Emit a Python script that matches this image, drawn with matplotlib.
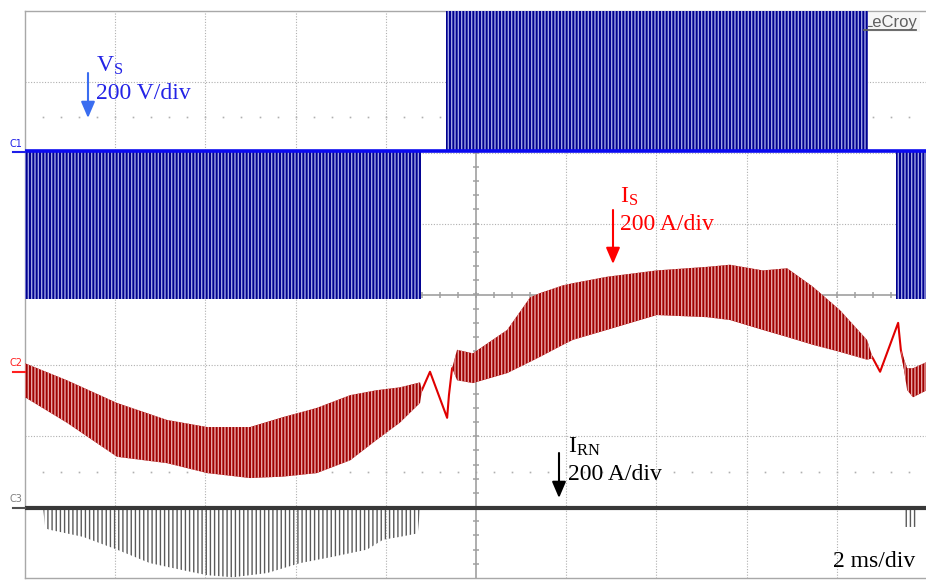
import numpy as np
import matplotlib
matplotlib.use('Agg')
import matplotlib.pyplot as plt
from matplotlib.lines import Line2D

# scope screen: 2 ms/div x 10 div, 8 vertical div (values below in div)

# C1 : V_S switching blocks
vs_level = 2.02
vs_step = 2.08
vs_block_start = [0.0, 9.33, 19.31]
vs_block_end = [8.78, 18.69, 20.0]
vs_block_sign = [-1, 1, -1]

# C2 : I_S ripple envelope
is_t = [0.00, 0.93, 2.04, 3.15, 4.04, 4.99, 5.72, 6.47, 7.21, 7.80, 8.31, 8.76,
        8.80, 8.98, 9.36, 9.40, 9.47, 9.58, 9.93, 10.69, 11.20, 11.42, 11.93,
        12.15, 12.90, 14.01, 15.12, 15.63, 16.36, 16.90, 17.47, 18.07, 18.67,
        18.80, 18.96, 19.36, 19.42, 19.56, 19.69, 20.00]
is_upper = [-0.97, -1.21, -1.53, -1.77, -1.87, -1.87, -1.73, -1.60, -1.42, -1.35,
            -1.31, -1.24, -1.35, -1.09, -1.74, -1.42, -1.04, -0.78, -0.83, -0.50,
            -0.04, 0.02, 0.13, 0.16, 0.25, 0.34, 0.39, 0.42, 0.34, 0.37, 0.11,
            -0.22, -0.64, -0.90, -1.09, -0.40, -0.78, -1.04, -1.04, -0.95]
is_lower = [-1.45, -1.81, -2.29, -2.38, -2.52, -2.59, -2.57, -2.52, -2.34, -2.05,
            -1.81, -1.53, -1.35, -1.09, -1.74, -1.42, -1.04, -1.21, -1.25, -1.11,
            -0.95, -0.88, -0.71, -0.64, -0.50, -0.29, -0.32, -0.36, -0.50, -0.60,
            -0.71, -0.81, -0.92, -0.90, -1.09, -0.40, -0.78, -1.35, -1.45, -1.35]

# C3 : I_RN spikes (lower envelope)
irn_level = -3.01
irn_t = [0.00, 0.40, 0.45, 0.55, 1.29, 2.04, 2.77, 3.50, 4.04, 4.61, 5.37, 6.10,
         6.83, 7.58, 7.94, 8.31, 8.71, 8.76, 19.47, 19.49, 19.78, 19.80, 20.00]
irn_lower = [-3.01, -3.01, -3.30, -3.32, -3.42, -3.60, -3.79, -3.89, -3.96, -3.99,
             -3.93, -3.79, -3.70, -3.60, -3.46, -3.42, -3.37, -3.01, -3.01, -3.28,
             -3.28, -3.01, -3.01]

W, H = 926, 583
plt.rcParams['hatch.linewidth'] = 1.0
plt.rcParams['mathtext.fontset'] = 'custom'
plt.rcParams['mathtext.rm'] = 'Liberation Serif'


def px(x, y):
    # screen pixel (top-left origin) -> figure fraction
    return x / W, 1 - y / H


fig = plt.figure(figsize=(W / 100, H / 100), dpi=100, facecolor='white')
ax = fig.add_axes([25 / W, 5 / H, 902 / W, 567 / H])
ax.set_xlim(0, 20)
ax.set_ylim(-4, 4)
ax.set_xticks([])
ax.set_yticks([])
for s in ax.spines.values():
    s.set_color('#A8A8A8')
    s.set_linewidth(1.0)

# grid
grey = '#B0B0B0'
for gx in np.arange(2, 20, 2):
    if gx != 10:
        ax.axvline(gx, color=grey, lw=0.8, ls=(0, (1, 1.5)), zorder=0)
for gy in [-3, -2, -1, 1, 2, 3]:
    ax.axhline(gy, color=grey, lw=0.8, ls=(0, (1, 1.5)), zorder=0)
dots = np.arange(0.4, 20, 0.4)
for gy in [2.5, -2.5]:
    ax.plot(dots, np.full(len(dots), gy), ls='none', marker='s', ms=1.2,
            mew=0, color=grey, zorder=0)

# centre cross with minor ticks
ax.axhline(0, color='#A0A0A0', lw=1.2, zorder=1)
ax.axvline(10, color='#A0A0A0', lw=1.2, zorder=1)
ax.plot(dots, np.zeros(len(dots)), ls='none', marker='|', ms=5, mew=1.1,
        color='#A0A0A0', zorder=1)
vt = np.arange(-3.8, 4, 0.2)
ax.plot(np.full(len(vt), 10), vt, ls='none', marker='_', ms=5, mew=1.1,
        color='#A0A0A0', zorder=1)

# C1 V_S
for s, e, sg in zip(vs_block_start, vs_block_end, vs_block_sign):
    ax.fill_between([s, e], vs_level, vs_level + sg * vs_step,
                    facecolor='#000090', edgecolor='#A0A4E4', hatch='|||||',
                    linewidth=0, zorder=3)
ax.plot([0, 20], [vs_level, vs_level], color='#0A0AF0', lw=2.6, zorder=4)

# C2 I_S (centre line under the band, shows where the ripple stops)
is_mid = (np.array(is_upper) + np.array(is_lower)) / 2
ax.plot(is_t, is_mid, color='#E00000', lw=1.5, zorder=2)
ax.fill_between(is_t, is_lower, is_upper, facecolor='#A00000',
                edgecolor='#E8A4A4', hatch='|||||', linewidth=0, zorder=3)

# C3 I_RN
ax.fill_between(irn_t, irn_lower, irn_level, facecolor='none',
                edgecolor='#5A5A5A', hatch='||||', linewidth=0, zorder=3)
ax.plot([0, 20], [irn_level, irn_level], color='#383838', lw=3, zorder=4)

# LeCroy logo
ax.text(*px(864, 27), 'LeCroy', transform=fig.transFigure, fontsize=12,
        family='Liberation Sans', color='#606060', zorder=2,
        bbox=dict(facecolor='#F6F6F6', edgecolor='none', pad=1.5))
fig.add_artist(Line2D([864 / W, 916 / W], [1 - 30 / H] * 2, color='#606060', lw=1.3))

# channel markers
serif = 'Liberation Serif'
fig.text(*px(10, 147), 'C1', fontsize=7, color='#1F1FE8', family='DejaVu Sans')
fig.add_artist(Line2D([13 / W, 25 / W], [1 - 152 / H] * 2, color='#1F1FE8', lw=1.5))
fig.text(*px(10, 366), 'C2', fontsize=7, color='#FF2020', family='DejaVu Sans')
fig.add_artist(Line2D([13 / W, 25 / W], [1 - 372 / H] * 2, color='#FF2020', lw=1.5))
fig.text(*px(10, 502), 'C3', fontsize=7, color='#808080', family='DejaVu Sans')
fig.add_artist(Line2D([13 / W, 25 / W], [1 - 508 / H] * 2, color='#505050', lw=1.5))

# labels and arrows
def label(x, y, name, scale, color, arrow_color, ax_x, y0, y1):
    fig.text(*px(x, y), name, fontsize=17, color=color, family=serif)
    fig.text(*px(x, y + 27), scale, fontsize=17, color=color, family=serif)
    ax.annotate('', xy=px(ax_x, y1), xytext=px(ax_x, y0),
                xycoords='figure fraction', textcoords='figure fraction',
                arrowprops=dict(arrowstyle='-|>,head_length=0.7,head_width=0.3',
                                mutation_scale=14, lw=1.5, color=arrow_color,
                                shrinkA=0, shrinkB=0), zorder=6)


label(96, 72, r'$\mathrm{V_S}$', '200 V/div', '#2323E6', '#3A6DF0', 88, 73, 118)
label(620, 203, r'$\mathrm{I_S}$', '200 A/div', '#FF0000', '#FF0000', 613, 210, 264)
label(568, 453, r'$\mathrm{I_{RN}}$', '200 A/div', 'black', 'black', 559, 453, 498)
fig.text(*px(833, 567), '2 ms/div', fontsize=17, color='black', family=serif)

fig.savefig('out.png', dpi=100, facecolor='white')
